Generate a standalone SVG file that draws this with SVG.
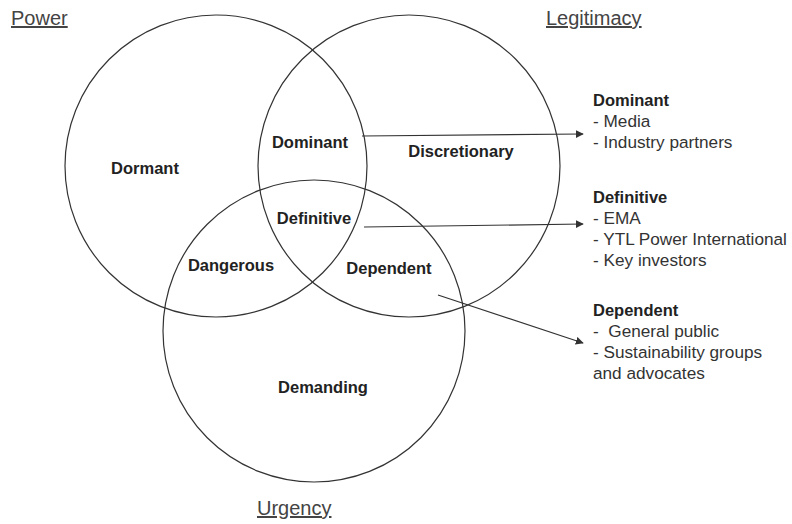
<svg xmlns="http://www.w3.org/2000/svg" width="792" height="524" viewBox="0 0 792 524">
<style>
.c{fill:none;stroke:#333;stroke-width:1.2}
.t{font-family:"Liberation Sans",Arial,sans-serif;font-size:20px;fill:#444;text-decoration:underline}
.l{font-family:"Liberation Sans",Arial,sans-serif;font-size:16.5px;font-weight:bold;fill:#222;text-anchor:middle}
.h{font-family:"Liberation Sans",Arial,sans-serif;font-size:16.5px;font-weight:bold;fill:#222}
.b{font-family:"Liberation Sans",Arial,sans-serif;font-size:17.2px;fill:#333}
.a{fill:none;stroke:#333;stroke-width:1.2;marker-end:url(#ah)}
</style>
<defs>
<marker id="ah" viewBox="0 0 10 10" refX="9" refY="5" markerWidth="8" markerHeight="8" markerUnits="userSpaceOnUse" orient="auto">
<path d="M0,0 L10,5 L0,10 z" fill="#333"/>
</marker>
</defs>
<rect width="792" height="524" fill="#fff"/>
<g id="power"><circle class="c" cx="216" cy="166" r="151"/><text class="t" x="11" y="25">Power</text></g>
<g id="legitimacy"><circle class="c" cx="409" cy="166" r="151"/><text class="t" x="546" y="25">Legitimacy</text></g>
<g id="urgency"><circle class="c" cx="314" cy="331" r="151"/><text class="t" x="257" y="515">Urgency</text></g>
<g id="regions">
<text class="l" x="145" y="174">Dormant</text>
<text class="l" x="310" y="148">Dominant</text>
<text class="l" x="461" y="157">Discretionary</text>
<text class="l" x="314" y="224">Definitive</text>
<text class="l" x="231" y="271">Dangerous</text>
<text class="l" x="389" y="274">Dependent</text>
<text class="l" x="323" y="393">Demanding</text>
</g>
<g id="connectors">
<line class="a" x1="362" y1="136" x2="583" y2="134"/>
<line class="a" x1="364" y1="227" x2="583" y2="224"/>
<line class="a" x1="438" y1="295" x2="583" y2="343"/>
</g>
<g id="list-dominant">
<text class="h" x="593" y="106">Dominant</text>
<text class="b" x="593" y="127">- Media</text>
<text class="b" x="593" y="148">- Industry partners</text>
</g>
<g id="list-definitive">
<text class="h" x="593" y="203">Definitive</text>
<text class="b" x="593" y="224">- EMA</text>
<text class="b" x="593" y="245">- YTL Power International</text>
<text class="b" x="593" y="266">- Key investors</text>
</g>
<g id="list-dependent">
<text class="h" x="593" y="316">Dependent</text>
<text class="b" x="593" y="337" xml:space="preserve">-  General public</text>
<text class="b" x="593" y="358">- Sustainability groups</text>
<text class="b" x="593" y="379">and advocates</text>
</g>
</svg>
